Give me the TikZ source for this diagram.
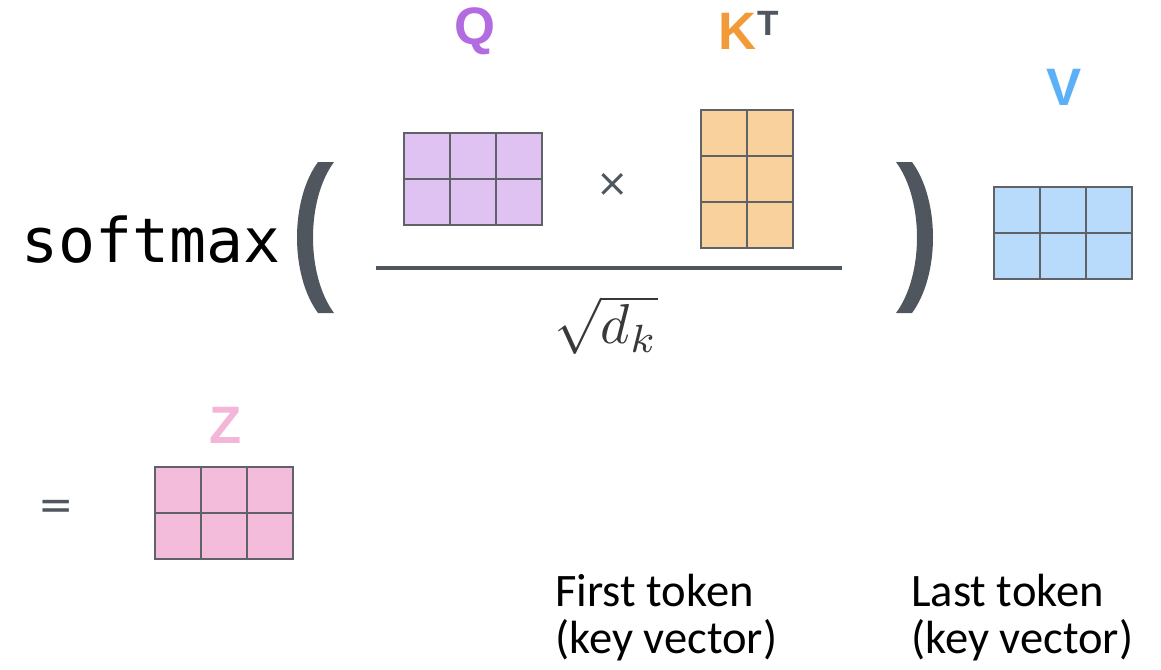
\documentclass[tikz,border=0pt]{standalone}
\usepackage{fontspec}
\setmainfont{Carlito}
\newfontfamily\monofont{DejaVu Sans Mono}
\newfontfamily\labfont{Liberation Sans}
\newfontfamily\symfont{DejaVu Sans}
\definecolor{opgray}{HTML}{50565E}
\definecolor{gridgray}{HTML}{5F6368}
\definecolor{qpurple}{HTML}{B36BE0}
\definecolor{qfill}{HTML}{DFC2F2}
\definecolor{korange}{HTML}{F29A38}
\definecolor{kfill}{HTML}{F8D19C}
\definecolor{vblue}{HTML}{5BB0F8}
\definecolor{vfill}{HTML}{B8DAFB}
\definecolor{zpink}{HTML}{F4B6D6}
\definecolor{zfill}{HTML}{F3BCDA}
\tikzset{
  matlabel/.style={font=\labfont\bfseries\fontsize{30}{30}\selectfont, inner sep=0pt},
  cell/.style={draw=gridgray, line width=1.1pt},
  paren/.style={fill=opgray},
  note/.style={font=\fontsize{26.5}{26.2}\selectfont, align=left, anchor=base west, inner sep=0pt},
}
\begin{document}
\begin{tikzpicture}[x=0.02cm, y=-0.02cm]
  \useasboundingbox (0,0) rectangle (1161,670);
  % softmax( ... )
  \node[font=\monofont\fontsize{35}{35}\selectfont, anchor=base west, inner sep=0pt] (softmax) at (21,262) {softmax};
  \fill[paren] (318,162) .. controls (290,200) and (290,275) .. (318,313) -- (334,313) .. controls (306,275) and (306,200) .. (334,162) -- cycle;
  \fill[paren] (912,162) .. controls (940,200) and (940,275) .. (912,313) -- (896,313) .. controls (924,275) and (924,200) .. (896,162) -- cycle;
  % labels
  \node[matlabel, text=qpurple] (Q) at (475,31) {Q};
  \node[matlabel, text=korange] (K) at (738,31) {K};
  \node[matlabel, font=\labfont\bfseries\fontsize{20}{20}\selectfont, text=opgray] (T) at (768,23) {T};
  \node[matlabel, text=vblue] (V) at (1064,87) {V};
  \node[matlabel, text=zpink] (Z) at (226,425) {Z};
  % matrices
  \foreach \i in {0,1,2} \foreach \j in {0,1}
    \draw[cell, fill=qfill] ({404+46*\i},{133+46*\j}) rectangle +(46,46);
  \foreach \i in {0,1} \foreach \j in {0,1,2}
    \draw[cell, fill=kfill] ({701+46*\i},{110+46*\j}) rectangle +(46,46);
  \foreach \i in {0,1,2} \foreach \j in {0,1}
    \draw[cell, fill=vfill] ({994+46*\i},{187+46*\j}) rectangle +(46,46);
  \foreach \i in {0,1,2} \foreach \j in {0,1}
    \draw[cell, fill=zfill] ({155+46*\i},{467+46*\j}) rectangle +(46,46);
  \node[font=\symfont\fontsize{22}{22}\selectfont, text=opgray, inner sep=0pt] (times) at (613,185) {×};
  \node[font=\symfont\fontsize{24}{24}\selectfont, text=opgray, inner sep=0pt] (equals) at (56,510) {=};
  % fraction
  \coordinate (fracL) at (376,268);
  \coordinate (fracR) at (842,268);
  \draw[opgray, line width=1.8pt] (fracL) -- (fracR);
  \node[text=black!78, scale=3.2, inner sep=0pt] (sqrtdk) at (606,325) {$\sqrt{d_k}$};
  % notes
  \node[note] (first) at (555,653) {First token\\(key vector)};
  \node[note] (last) at (911,653) {Last token\\(key vector)};
\end{tikzpicture}
\end{document}
